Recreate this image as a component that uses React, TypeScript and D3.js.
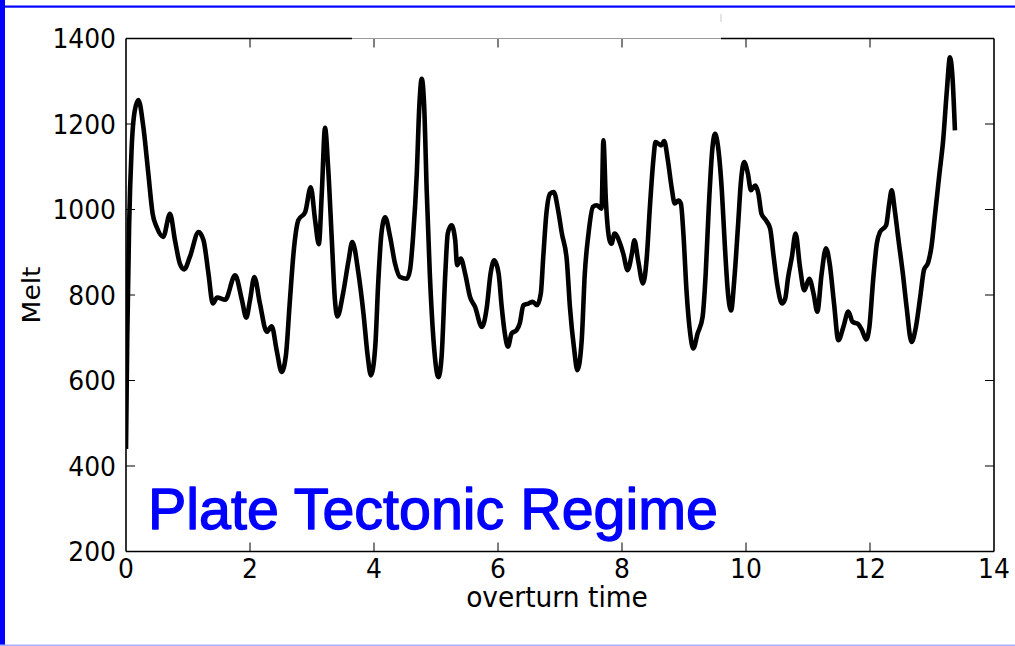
import React from "react";
import * as d3 from "d3";

const overturnTime = [
  0.0, 0.02, 0.05, 0.09, 0.14, 0.2, 0.28, 0.36, 0.43, 0.495, 0.6, 0.71, 0.79, 0.87, 0.94, 1.03, 1.17, 1.25, 1.33, 1.4,
  1.47, 1.6, 1.76, 1.87, 1.94, 2.0, 2.07, 2.16, 2.27, 2.35, 2.43, 2.51, 2.58, 2.64, 2.71, 2.78, 2.89, 2.98, 3.05, 3.11,
  3.16, 3.21, 3.26, 3.32, 3.37, 3.41, 3.5, 3.59, 3.65, 3.75, 3.83, 3.9, 3.95, 4.02, 4.07, 4.12, 4.18, 4.26, 4.34, 4.42,
  4.53, 4.58, 4.63, 4.69, 4.73, 4.77, 4.81, 4.85, 4.9, 4.96, 5.04, 5.09, 5.15, 5.19, 5.25, 5.31, 5.34, 5.4, 5.47, 5.55,
  5.63, 5.74, 5.82, 5.88, 5.94, 6.01, 6.06, 6.11, 6.16, 6.22, 6.3, 6.35, 6.41, 6.49, 6.56, 6.63, 6.69, 6.73, 6.78, 6.84,
  6.9, 6.97, 7.03, 7.11, 7.16, 7.23, 7.28, 7.35, 7.4, 7.46, 7.53, 7.59, 7.67, 7.7, 7.74, 7.8, 7.83, 7.88, 7.97, 8.02,
  8.09, 8.16, 8.2, 8.26, 8.34, 8.4, 8.45, 8.51, 8.54, 8.63, 8.68, 8.74, 8.8, 8.85, 8.91, 8.95, 8.99, 9.04, 9.1, 9.15,
  9.22, 9.3, 9.35, 9.4, 9.46, 9.5, 9.55, 9.61, 9.66, 9.71, 9.76, 9.81, 9.87, 9.92, 9.97, 10.03, 10.08, 10.15, 10.2, 10.25,
  10.32, 10.39, 10.44, 10.51, 10.58, 10.63, 10.68, 10.74, 10.8, 10.87, 10.94, 11.02, 11.09, 11.15, 11.22, 11.29, 11.35, 11.42, 11.49, 11.57,
  11.65, 11.72, 11.81, 11.87, 11.94, 11.99, 12.05, 12.11, 12.16, 12.26, 12.31, 12.35, 12.4, 12.46, 12.53, 12.59, 12.67, 12.74, 12.81, 12.87,
  12.94, 12.99, 13.05, 13.12, 13.18, 13.24, 13.29, 13.33, 13.37,
];

const melt = [
  440, 700, 960, 1140, 1230, 1256, 1193, 1084, 990, 959, 936, 990, 928, 873, 860, 889, 947, 928, 850, 780,
  794, 789, 846, 788, 747, 788, 842, 780, 714, 727, 671, 620, 660, 780, 910, 975, 994, 1052, 975, 919,
  1045, 1191, 1099, 928, 788, 750, 803, 881, 924, 850, 757, 655, 612, 679, 834, 944, 982, 936, 873, 842,
  838, 858, 936, 1084, 1239, 1306, 1239, 1045, 850, 694, 608, 655, 850, 944, 963, 928, 870, 885, 850, 795,
  772, 725, 772, 850, 881, 850, 772, 710, 679, 710, 718, 733, 776, 780, 784, 776, 803, 889, 990, 1037,
  1041, 998, 944, 881, 772, 671, 624, 694, 850, 944, 1006, 1010, 1002, 1162, 1021, 928, 920, 944, 920, 897,
  858, 897, 928, 881, 827, 889, 1006, 1123, 1158, 1150, 1160, 1115, 1052, 1014, 1021, 1014, 944, 811, 710, 675,
  710, 749, 850, 1006, 1146, 1177, 1146, 1045, 912, 803, 764, 834, 959, 1068, 1111, 1084, 1045, 1056, 1037, 990,
  975, 955, 897, 819, 780, 790, 842, 889, 944, 866, 811, 838, 803, 761, 850, 909, 873, 780, 694, 725,
  761, 737, 732, 718, 696, 725, 834, 920, 947, 963, 1014, 1045, 998, 928, 850, 772, 690, 725, 795, 858,
  877, 912, 990, 1084, 1162, 1279, 1356, 1310, 1185,
];

const xTicks = [0, 2, 4, 6, 8, 10, 12, 14];
const yTicks = [200, 400, 600, 800, 1000, 1200, 1400];
const xLabel = "overturn time";
const yLabel = "Melt";
const overlayText = "Plate Tectonic Regime";

const W = 1015;
const H = 646;
const L = 126;
const R = 994;
const T = 38.5;
const B = 551.5;

export default function App() {
  const x = d3.scaleLinear().domain([0, 14]).range([L, R]);
  const y = d3.scaleLinear().domain([200, 1400]).range([B, T]);
  const pts: [number, number][] = overturnTime.map((t, i) => [t, melt[i]]);
  const line = d3
    .line<[number, number]>()
    .x((d) => x(d[0]))
    .y((d) => y(d[1]))
    .curve(d3.curveMonotoneX);
  const font = "'DejaVu Sans', sans-serif";
  const fs = 25;
  const sy = 1.06;
  return (
    <div style={{ position: "fixed", left: 0, top: 0 }}>
      <svg width={W} height={H} style={{ display: "block", background: "#fff" }}>
        <rect x={0} y={0} width={W} height={H} fill="#fff" />
        {/* blue frame */}
        <rect x={0} y={0} width={5} height={H} fill="#0000ff" />
        <rect x={0} y={5.5} width={W} height={2.2} fill="#0000ff" />
        <rect x={0} y={644.5} width={W} height={1.5} fill="#aab0ff" />
        <rect x={720.5} y={14} width={1} height={8} fill="#ccc" />

        <defs>
          <clipPath id="plotclip">
            <rect x={L} y={T - 4} width={R - L} height={B - T + 4} />
          </clipPath>
        </defs>

        {/* curve */}
        <path
          d={line(pts) || ""}
          fill="none"
          stroke="#000"
          strokeWidth={4.6}
          strokeLinejoin="round"
          clipPath="url(#plotclip)"
        />

        {/* ticks */}
        {xTicks.slice(1, -1).map((t) => (
          <g key={"xt" + t}>
            <line x1={x(t)} x2={x(t)} y1={B} y2={B - 9} stroke="#000" strokeWidth={1} />
            <line x1={x(t)} x2={x(t)} y1={T} y2={T + 9} stroke="#000" strokeWidth={1} />
          </g>
        ))}
        {yTicks.slice(1, -1).map((t) => (
          <g key={"yt" + t}>
            <line x1={L} x2={L + 9} y1={y(t)} y2={y(t)} stroke="#000" strokeWidth={1} />
            <line x1={R} x2={R - 9} y1={y(t)} y2={y(t)} stroke="#000" strokeWidth={1} />
          </g>
        ))}

        {/* spines */}
        <line x1={L} x2={L} y1={T} y2={B} stroke="#000" strokeWidth={1.6} />
        <line x1={R} x2={R} y1={T} y2={B} stroke="#000" strokeWidth={1.6} />
        <line x1={L} x2={R} y1={B} y2={B} stroke="#000" strokeWidth={1.6} />
        <line x1={L} x2={352} y1={T} y2={T} stroke="#000" strokeWidth={1.6} />
        <line x1={352} x2={721} y1={T} y2={T} stroke="#999" strokeWidth={1} />
        <line x1={721} x2={R} y1={T} y2={T} stroke="#000" strokeWidth={1.6} />

        {/* x tick labels */}
        {xTicks.map((t) => (
          <text
            key={"xl" + t}
            transform={`translate(${x(t)},${578}) scale(1,${sy})`}
            textAnchor="middle"
            fontFamily={font}
            fontSize={fs}
            fill="#000"
          >
            {t}
          </text>
        ))}
        {/* y tick labels */}
        {yTicks.map((t) => (
          <text
            key={"yl" + t}
            transform={`translate(${116},${y(t) + 9.5}) scale(1,${sy})`}
            textAnchor="end"
            fontFamily={font}
            fontSize={fs}
            fill="#000"
          >
            {t}
          </text>
        ))}

        {/* axis labels */}
        <text
          transform={`translate(${557},${607}) scale(1,${sy})`}
          textAnchor="middle"
          fontFamily={font}
          fontSize={26.5}
          fill="#000"
        >
          {xLabel}
        </text>
        <text
          transform={`translate(${40},${(T + B) / 2}) rotate(-90) scale(${sy},1)`}
          textAnchor="middle"
          fontFamily={font}
          fontSize={fs}
          fill="#000"
        >
          {yLabel}
        </text>

        {/* overlay annotation */}
        <text
          x={148}
          y={529}
          fontFamily="'Liberation Sans', Arial, sans-serif"
          fontSize={57}
          fill="#0000ff"
          stroke="#0000ff"
          strokeWidth={1.3}
          strokeLinejoin="round"
          textLength={570}
          lengthAdjust="spacingAndGlyphs"
        >
          {overlayText}
        </text>
      </svg>
    </div>
  );
}
